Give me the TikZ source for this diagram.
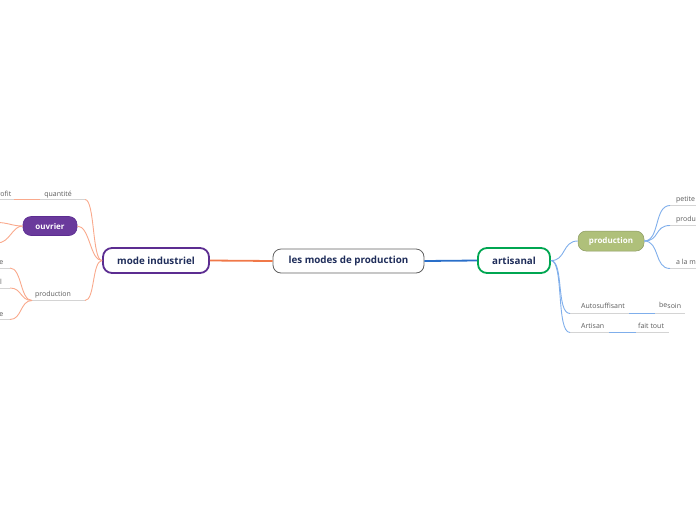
\documentclass[tikz,border=0pt]{standalone}
\usepackage{fontspec}
\setmainfont{Open Sans}
\definecolor{navy}{HTML}{1F2D5A}
\definecolor{purpB}{HTML}{5C2D91}
\definecolor{purpF}{HTML}{6A3A9C}
\definecolor{greenB}{HTML}{00A651}
\definecolor{olive}{HTML}{AFC07A}
\definecolor{orangeM}{HTML}{F07848}
\definecolor{orangeL}{HTML}{F9A98C}
\definecolor{blueM}{HTML}{2A6FC9}
\definecolor{blueL}{HTML}{7FAEEB}
\definecolor{txt}{HTML}{5A5A5A}
\definecolor{uln}{HTML}{D4D4D4}
\tikzset{
  mainbox/.style={draw=gray!75!black, line width=0.8pt, rounded corners=8pt, fill=white,
    minimum width=151pt, minimum height=24pt, inner sep=0pt,
    font=\bfseries\fontsize{9.8}{11}\selectfont, text=navy},
  subbox/.style={line width=1.8pt, rounded corners=9pt, fill=white, minimum height=25pt, inner sep=0pt,
    font=\bfseries\fontsize{9.8}{11}\selectfont, text=navy},
  pill/.style={rounded corners=8pt, minimum height=19pt, inner sep=0pt, text=white,
    font=\bfseries\fontsize{8}{9}\selectfont},
  lbl/.style={font=\fontsize{7}{8}\selectfont, text=txt, inner sep=0pt},
  uline/.style={draw=uln, line width=1pt},
  org/.style={draw=orangeL, line width=0.9pt},
  blu/.style={draw=blueL, line width=0.9pt},
}
\begin{document}
\begin{tikzpicture}[x=1pt,y=-1pt]
\useasboundingbox (0,0) rectangle (696,520);
\clip (0,0) rectangle (696,520);
% central and main nodes
\node[mainbox] (c) at (348.5,261) {les modes de production};
\node[subbox, draw=purpB, minimum width=106pt] (mi) at (156,260.5) {mode industriel};
\node[subbox, draw=greenB, minimum width=72pt] (ar) at (514,260.5) {artisanal};
\draw[orangeM, line width=1.8pt] (c.west) -- (mi.east);
\draw[blueM, line width=1.8pt] (c.east) -- (ar.west);
% ---- left side
\node[pill, fill=purpF, draw=purpB, line width=0.6pt, minimum width=54pt] (ou) at (50,226) {ouvrier};
\coordinate (qL) at (40,199.5); \coordinate (qR) at (85,199.5);
\coordinate (pL) at (32,300.5); \coordinate (pR) at (85,300.5);
\node[lbl, anchor=base] (quant) at (58,196) {quantité};
\node[lbl, anchor=base] (prodL) at (53,296.5) {production};
\draw[uline] (qL) -- (qR);
\draw[uline] (pL) -- (pR);
\draw[org] (mi.west) .. controls (92,261) and (95,199.5) .. (qR);
\draw[org] (mi.west) .. controls (90,261) and (90,226) .. (ou.east);
\draw[org] (mi.west) .. controls (92,261) and (95,300.5) .. (pR);
% profit
\coordinate (fL) at (-2,199.5); \coordinate (fR) at (14,199.5);
\node[lbl, anchor=base east] (profit) at (11.5,196) {profit};
\draw[uline] (fL) -- (fR);
\draw[org] (fR) -- (qL);
% ouvrier children
\coordinate (o1) at (-3,222.5); \coordinate (o2) at (-3,243);
\draw[org] (ou.west) .. controls (12,226) and (8,222.5) .. (o1);
\draw[org] (ou.west) .. controls (12,226) and (10,243) .. (o2);
% production children
\coordinate (e1) at (10,268); \coordinate (e2) at (10,288); \coordinate (e3) at (10,319.5);
\coordinate (e1L) at (-2,268); \coordinate (e2L) at (-2,288); \coordinate (e3L) at (-2,319.5);
\node[lbl, anchor=base east] (t1) at (3.5,264) {e};
\node[lbl, anchor=base east] (t2) at (2,284) {l};
\node[lbl, anchor=base east] (t3) at (3.5,316) {e};
\draw[uline] (e1L) -- (e1);
\draw[uline] (e2L) -- (e2);
\draw[uline] (e3L) -- (e3);
\draw[org] (pL) .. controls (20,300.5) and (22,268) .. (e1);
\draw[org] (pL) .. controls (20,300.5) and (22,288) .. (e2);
\draw[org] (pL) .. controls (20,300.5) and (22,319.5) .. (e3);
% ---- right side
\node[pill, fill=olive, draw=olive!80!black, line width=0.5pt, minimum width=66pt, minimum height=20pt] (pg) at (611,241) {production};
\draw[blu] (ar.east) .. controls (566,261) and (562,241) .. (pg.west);
\coordinate (r1) at (670,205.5); \coordinate (r2) at (670,225.5); \coordinate (r3) at (670,268.5);
\coordinate (r1R) at (700,205.5); \coordinate (r2R) at (700,225.5); \coordinate (r3R) at (700,268.5);
\node[lbl, anchor=base west] (petite) at (676,201.5) {petite};
\node[lbl, anchor=base west] (produit) at (676,221.5) {produit};
\node[lbl, anchor=base west] (main) at (676,264.5) {a la main};
\draw[uline] (r1) -- (r1R);
\draw[uline] (r2) -- (r2R);
\draw[uline] (r3) -- (r3R);
\draw[blu] (pg.east) .. controls (660,241) and (654,205.5) .. (r1);
\draw[blu] (pg.east) .. controls (660,241) and (654,225.5) .. (r2);
\draw[blu] (pg.east) .. controls (660,241) and (654,268.5) .. (r3);
% Autosuffisant / besoin
\coordinate (aL) at (570,313.5); \coordinate (aR) at (629,313.5);
\coordinate (bL) at (655,313.5); \coordinate (bR) at (685,313.5);
\node[lbl, anchor=base west] (auto) at (581,308.5) {Autosuffisant};
\node[lbl, anchor=base west] (besoin) at (659,308.5) {\raisebox{1pt}{be}soin};
\draw[uline] (aL) -- (aR);
\draw[uline] (bL) -- (bR);
\draw[blu] (aR) -- (bL);
\draw[blu] (ar.east) .. controls (564,261) and (556,313.5) .. (aL);
% Artisan / fait tout
\coordinate (sL) at (570,332.5); \coordinate (sR) at (609,332.5);
\coordinate (tL) at (636,332.5); \coordinate (tR) at (669,332.5);
\node[lbl, anchor=base west] (artisan) at (581,328) {Artisan};
\node[lbl, anchor=base west] (fait) at (638,328) {fait tout};
\draw[uline] (sL) -- (sR);
\draw[uline] (tL) -- (tR);
\draw[blu] (sR) -- (tL);
\draw[blu] (ar.east) .. controls (564,261) and (556,332.5) .. (sL);
\end{tikzpicture}
\end{document}
